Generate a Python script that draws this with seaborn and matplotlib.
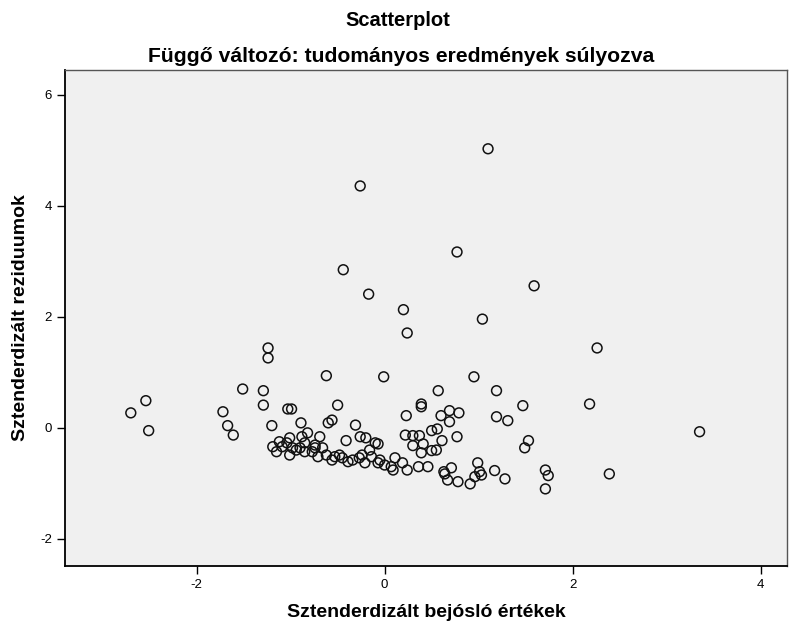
import matplotlib
matplotlib.use("Agg")
import matplotlib.pyplot as plt
import seaborn as sns
import pandas as pd

# Standardized predicted values (x) and standardized residuals (y)
predicted = [
    1.10, -0.26, 0.77, -0.44, 1.59, -0.17, 0.20, 1.04, 0.24, -1.24,
    2.26, -1.24, -0.62, -0.01, 0.95, -1.51, -1.29, 0.57, 1.19, -2.54,
    -1.29, -0.50, 0.39, 0.39, 1.47, 2.18, -2.70, -1.72, -1.03, -0.99,
    0.23, 0.60, 0.69, 0.79, 0.69, 1.19, 1.31, -2.51, -1.67, -1.61,
    -1.20, -0.89, -0.60, -0.56, -0.31, 3.35, 2.39,
    -1.19, -1.15, -1.12, -1.09, -1.04, -1.01, -0.98, -0.94, -0.90, -0.88,
    -0.85, -0.82, -0.77, -0.74, -0.69,
    -0.41, -0.26, -0.20, -0.10, -0.74, -0.66, -0.62, -0.56, -0.53,
    -0.45, -0.34, -0.27, -0.24, -0.14, -0.16, -0.07, -0.05, 0.00, 0.07,
    0.11, 0.09, 0.19, 0.24, 0.36, 0.46, -0.07,
    0.22, 0.30, 0.37, 0.30, 0.41, 0.50, 0.56, 0.61, 0.77, 0.39,
    0.50, 0.55, 0.63, 0.64, 0.71, 0.67, 0.78, 0.91, 0.96, 0.99,
    1.01, 1.03, 1.17, 1.28, 1.53, 1.49, 1.71, 1.74, 1.71,
    -1.01, -0.85, -0.71, -0.48, -0.39, -0.21,
]
residuals = [
    5.03, 4.36, 3.17, 2.85, 2.56, 2.41, 2.13, 1.96, 1.71, 1.44,
    1.44, 1.26, 0.94, 0.92, 0.92, 0.70, 0.67, 0.67, 0.67, 0.49,
    0.41, 0.41, 0.43, 0.38, 0.40, 0.43, 0.27, 0.29, 0.34, 0.34,
    0.22, 0.22, 0.31, 0.27, 0.11, 0.20, 0.13, -0.05, 0.04, -0.13,
    0.04, 0.09, 0.09, 0.14, 0.05, -0.07, -0.83,
    -0.34, -0.43, -0.25, -0.34, -0.27, -0.18, -0.36, -0.40, -0.36, -0.16,
    -0.27, -0.09, -0.43, -0.31, -0.16,
    -0.23, -0.16, -0.18, -0.27, -0.36, -0.36, -0.49, -0.58, -0.52,
    -0.54, -0.58, -0.54, -0.49, -0.52, -0.40, -0.63, -0.58, -0.67, -0.70,
    -0.54, -0.76, -0.63, -0.76, -0.70, -0.70, -0.29,
    -0.13, -0.14, -0.14, -0.32, -0.29, -0.05, -0.02, -0.23, -0.16, -0.45,
    -0.41, -0.40, -0.79, -0.83, -0.72, -0.94, -0.97, -1.01, -0.88, -0.63,
    -0.79, -0.85, -0.77, -0.92, -0.23, -0.36, -0.76, -0.86, -1.10,
    -0.49, -0.43, -0.52, -0.49, -0.61, -0.63,
]

x_ticks = [-2, 0, 2, 4]
y_ticks = [-2, 0, 2, 4, 6]

df = pd.DataFrame({"pred": predicted, "resid": residuals})

sns.set_style("white")
plt.rcParams["font.family"] = ["Liberation Sans", "DejaVu Sans"]
plt.rcParams["text.color"] = "black"
plt.rcParams["axes.labelcolor"] = "black"
plt.rcParams["xtick.color"] = "black"
plt.rcParams["ytick.color"] = "black"

fig = plt.figure(figsize=(7.89, 6.26), dpi=100)
ax = fig.add_axes([65 / 789, 1 - 566 / 626, (787 - 65) / 789, (566 - 70) / 626])
ax.set_facecolor("#f0f0f0")

sns.scatterplot(data=df, x="pred", y="resid", ax=ax, marker="o", s=50,
                facecolor="none", edgecolor="#111111", linewidth=1.1)

ax.set_xlim(-3.40, 4.28)
ax.set_ylim(-2.49, 6.45)
ax.set_xticks(x_ticks)
ax.set_yticks(y_ticks)
ax.set_xticklabels([str(t) for t in x_ticks])
ax.set_yticklabels([str(t) for t in y_ticks])
ax.tick_params(axis="both", direction="out", length=6, width=1.0,
               color="black", labelsize=9.5, bottom=True, left=True)

for side in ("left", "bottom"):
    ax.spines[side].set_color("black")
    ax.spines[side].set_linewidth(1.3)
for side in ("top", "right"):
    ax.spines[side].set_color("#555555")
    ax.spines[side].set_linewidth(1.0)

ax.set_xlabel("Sztenderdizált bejósló értékek", fontsize=14,
              fontweight="bold", labelpad=9)
ax.set_ylabel("Sztenderdizált reziduumok", fontsize=14,
              fontweight="bold", labelpad=8)

fig.text(0.5 + 3 / 789, 1 - 20 / 626, "Scatterplot", ha="center", va="center",
         fontsize=14.5, fontweight="bold")
fig.text(0.5 + 7 / 789, 1 - 57 / 626,
         "Függő változó: tudományos eredmények súlyozva",
         ha="center", va="center", fontsize=15.2, fontweight="bold")

fig.savefig("out.png", dpi=100)
